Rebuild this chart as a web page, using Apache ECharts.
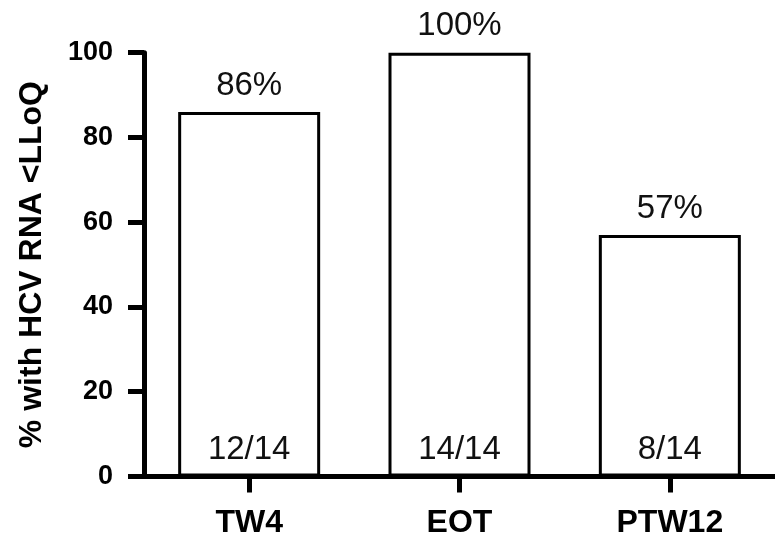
<!DOCTYPE html>
<html>
<head>
<meta charset="utf-8">
<script src="https://cdn.jsdelivr.net/npm/echarts@6/dist/echarts.min.js"></script>
<style>html,body{margin:0;padding:0;background:#fff}#c{width:775px;height:544px}</style>
</head>
<body>
<div id="c"></div>
<script>
var categories = ['TW4', 'EOT', 'PTW12'];
var percentValues = [86, 100, 57];
var responders = [12, 14, 8];
var totals = [14, 14, 14];
var yTicks = [0, 20, 40, 60, 80, 100];

var FONT = '"Liberation Sans", Arial, Helvetica, sans-serif';
var chart = echarts.init(document.getElementById('c'), null, {renderer: 'canvas'});
chart.setOption({
  animation: false,
  backgroundColor: '#ffffff',
  grid: {left: 144, right: -7, top: 52.7, bottom: 67.5, containLabel: false},
  xAxis: {
    type: 'category',
    data: categories,
    axisLine: {lineStyle: {color: '#000', width: 5}},
    axisTick: {show: true, alignWithLabel: true, length: 16, lineStyle: {color: '#000', width: 5}},
    axisLabel: {color: '#000', fontFamily: FONT, fontWeight: 'bold', fontSize: 32, margin: 31}
  },
  yAxis: {
    type: 'value',
    min: yTicks[0],
    max: yTicks[yTicks.length - 1],
    interval: yTicks[1] - yTicks[0],
    name: '% with HCV RNA <LLoQ',
    nameLocation: 'middle',
    nameGap: 96,
    nameTextStyle: {color: '#000', fontFamily: FONT, fontWeight: 'bold', fontSize: 32},
    axisLine: {show: true, lineStyle: {color: '#000', width: 5}},
    axisTick: {show: true, length: 16, lineStyle: {color: '#000', width: 5}},
    axisLabel: {color: '#000', fontFamily: FONT, fontWeight: 'bold', fontSize: 27, margin: 31},
    splitLine: {show: false}
  },
  series: [
    {
      type: 'bar',
      data: percentValues,
      barWidth: 142,
      itemStyle: {color: '#ffffff', borderColor: '#000', borderWidth: 3},
      label: {
        show: true, position: 'top', distance: 10,
        color: '#111', fontFamily: FONT, fontSize: 33,
        formatter: function (p) { return p.value + '%'; }
      }
    },
    {
      type: 'bar',
      data: percentValues,
      barWidth: 142,
      barGap: '-100%',
      silent: true,
      itemStyle: {color: 'rgba(0,0,0,0)', borderWidth: 0},
      label: {
        show: true, position: 'insideBottom', distance: 10,
        color: '#111', fontFamily: FONT, fontSize: 33,
        formatter: function (p) { return responders[p.dataIndex] + '/' + totals[p.dataIndex]; }
      },
      z: 3
    }
  ]
});
</script>
</body>
</html>
